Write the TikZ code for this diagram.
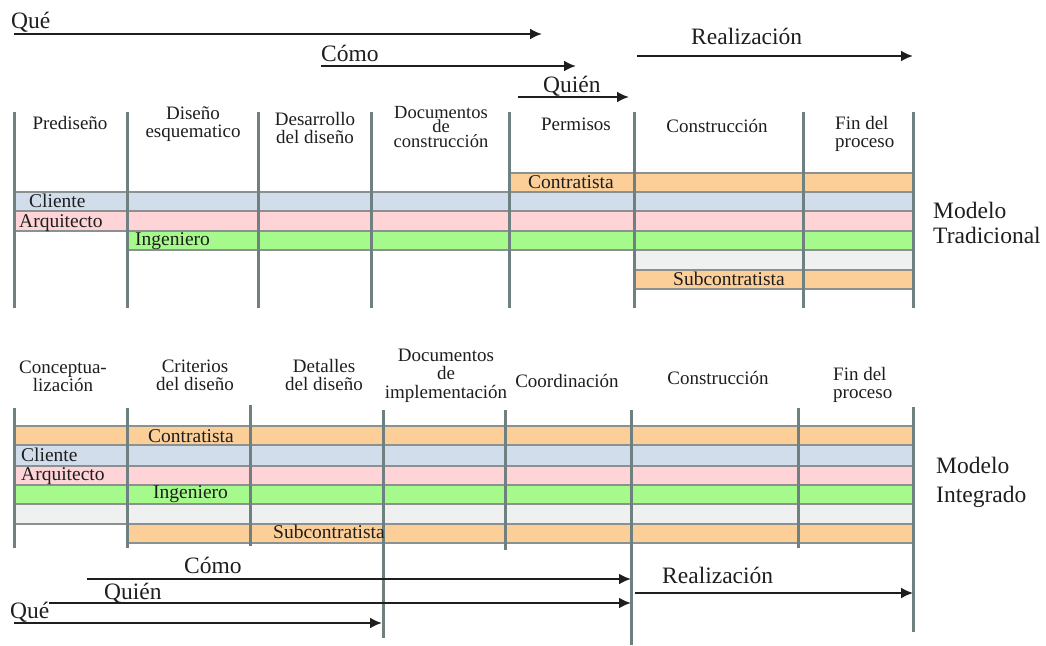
\documentclass[tikz,border=0pt]{standalone}
\usepackage{fontspec}
\setmainfont{Liberation Serif}
\usetikzlibrary{arrows.meta}

\definecolor{naranja}{HTML}{FDCF98}
\definecolor{azul}{HTML}{D2DDEC}
\definecolor{rosa}{HTML}{FFD4D7}
\definecolor{verde}{HTML}{A6FA8C}
\definecolor{grisclaro}{HTML}{EFF1F0}
\definecolor{bordeband}{HTML}{8A9190}
\definecolor{linea}{HTML}{6F8080}
\definecolor{texto}{HTML}{1E1E1E}

\begin{document}
\begin{tikzpicture}[x=1pt,y=-1pt,
  band/.style={draw=bordeband, line width=1.2pt},
  divider/.style={draw=linea, line width=3pt},
  flow/.style={draw=texto, line width=2.3pt, -{Latex[length=12pt,width=11pt]}},
  thinflow/.style={flow, line width=1.7pt},
  head/.style={inner sep=0pt, text=texto, align=center, anchor=base,
    font=\fontsize{19}{17.5}\selectfont},
  headleft/.style={head, align=left, anchor=base west},
  lbl/.style={inner sep=0pt, text=texto, anchor=base west,
    font=\fontsize{19.5}{20}\selectfont},
  big/.style={inner sep=0pt, text=texto, anchor=base west,
    font=\fontsize{23.5}{24}\selectfont},
  model/.style={big, align=left}
]
\useasboundingbox (0,0) rectangle (1046,645);

% ---------------- Modelo tradicional ----------------
% participant bands
\draw[band, fill=naranja]   (509,173) rectangle (913,192);
\draw[band, fill=azul]      (14,192)  rectangle (913,211);
\draw[band, fill=rosa]      (14,211)  rectangle (913,231);
\draw[band, fill=verde]     (127,231) rectangle (913,250);
\draw[band, fill=grisclaro] (634,250) rectangle (913,270);
\draw[band, fill=naranja]   (634,270) rectangle (913,289);

% phase dividers
\foreach \x in {14,127,258,371,509,634,803,913}
  \draw[divider] (\x,112) -- (\x,308);

% phase names
\node[head] (t1) at (70,129) {Prediseño};
\node[head] (t2) at (193,137) {Diseño\\esquematico};
\node[head] (t3) at (315,143) {Desarrollo\\del diseño};
\node[head, font=\fontsize{18.5}{14.5}\selectfont] (t4) at (441,147) {Documentos\\de\\construcción};
\node[head] (t5) at (576,130) {Permisos};
\node[head] (t6) at (717,132) {Construcción};
\node[headleft] (t7) at (835,147) {Fin del\\proceso};

% band labels
\node[lbl] (tcli) at (29,207)  {Cliente};
\node[lbl] (tarq) at (19,227)  {Arquitecto};
\node[lbl] (ting) at (135,245) {Ingeniero};
\node[lbl] (tcon) at (528,188) {Contratista};
\node[lbl] (tsub) at (673,285) {Subcontratista};

\node[model, font=\fontsize{23.5}{25}\selectfont] (tmod) at (933,243) {Modelo\\Tradicional};

% what / how / who / realisation
\node[big] (tque)  at (11,28)  {Qué};
\node[big] (tcomo) at (321,61) {Cómo};
\node[big] (tquien) at (543,92) {Quién};
\node[big] (treal) at (691,44) {Realización};

\coordinate (tqueA) at (14,34);   \coordinate (tqueB) at (542,34);
\coordinate (tcomoA) at (321,66); \coordinate (tcomoB) at (576,66);
\coordinate (tquienA) at (518,97); \coordinate (tquienB) at (629,97);
\coordinate (trealA) at (637,56); \coordinate (trealB) at (913,56);
\draw[flow] (tqueA) -- (tqueB);
\draw[flow] (tcomoA) -- (tcomoB);
\draw[flow] (tquienA) -- (tquienB);
\draw[flow] (trealA) -- (trealB);

% ---------------- Modelo integrado ----------------
\draw[band, fill=naranja]   (14,426)  rectangle (913,445);
\draw[band, fill=azul]      (14,445)  rectangle (913,466);
\draw[band, fill=rosa]      (14,466)  rectangle (913,485);
\draw[band, fill=verde]     (14,485)  rectangle (913,504);
\draw[band, fill=grisclaro] (14,504)  rectangle (913,524);
\draw[band, fill=naranja]   (127,524) rectangle (913,543);

\draw[divider] (14,408)  -- (14,548);
\draw[divider] (127,408) -- (127,548);
\draw[divider] (250,405) -- (250,546);
\draw[divider] (383,410) -- (383,638);
\draw[divider] (505,410) -- (505,550);
\draw[divider] (631,410) -- (631,645);
\draw[divider] (798,408) -- (798,548);
\draw[divider] (913,407) -- (913,632);

\node[head] (b1) at (63,391)  {Conceptua-\\lización};
\node[head] (b2) at (195,390) {Criterios\\del diseño};
\node[head] (b3) at (324,390) {Detalles\\del diseño};
\node[head, font=\fontsize{19}{18.5}\selectfont] (b4) at (446,398) {Documentos\\de\\implementación};
\node[head] (b5) at (567,387) {Coordinación};
\node[head] (b6) at (718,384) {Construcción};
\node[headleft] (b7) at (833,398) {Fin del\\proceso};

\node[lbl] (bcon) at (148,442) {Contratista};
\node[lbl] (bcli) at (21,461)  {Cliente};
\node[lbl] (barq) at (21,480)  {Arquitecto};
\node[lbl] (bing) at (153,498) {Ingeniero};
\node[lbl] (bsub) at (273,538) {Subcontratista};

\node[model, font=\fontsize{23.5}{29}\selectfont] (bmod) at (936,502) {Modelo\\Integrado};

\node[big] (bcomo)  at (184,573) {Cómo};
\node[big] (bquien) at (104,599) {Quién};
\node[big] (bque)   at (10,618)  {Qué};
\node[big] (breal)  at (662,583) {Realización};

\coordinate (bcomoA) at (87,579);  \coordinate (bcomoB) at (631,579);
\coordinate (bquienA) at (49,603); \coordinate (bquienB) at (631,603);
\coordinate (bqueA) at (14,623);   \coordinate (bqueB) at (382,623);
\coordinate (brealA) at (635,593); \coordinate (brealB) at (913,593);
\draw[flow] (bcomoA) -- (bcomoB);
\draw[flow] (bquienA) -- (bquienB);
\draw[flow] (bqueA) -- (bqueB);
\draw[thinflow] (brealA) -- (brealB);
\end{tikzpicture}
\end{document}
